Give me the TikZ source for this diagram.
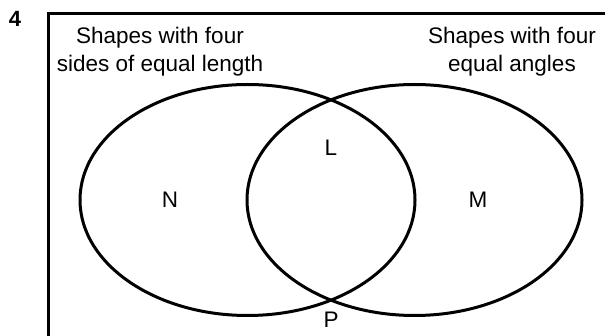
\documentclass[tikz,border=0pt]{standalone}
\usepackage{fontspec}
\setmainfont{Liberation Sans}
\usetikzlibrary{shapes.geometric}
\begin{document}
\begin{tikzpicture}[x=1pt,y=-1pt,
  set/.style={draw=black, line width=3pt, ellipse, inner sep=0pt, minimum width=335pt, minimum height=231pt},
  lab/.style={inner sep=0pt, font=\fontsize{22.5}{28}\selectfont},
  head/.style={inner sep=0pt, anchor=north, align=center, font=\fontsize{22.5}{28}\selectfont}]
\useasboundingbox (0,0) rectangle (605,336);
\clip (0,0) rectangle (605,336);
\node[lab, font=\fontsize{22}{26}\selectfont\bfseries] (num) at (15,19) {4};
\draw[line width=3pt] (48,360) -- (48,14) -- (630,14);
\node[set] (A) at (247.5,200) {};
\node[set] (B) at (414.5,200) {};
\node[head] (ha) at (160,26.6) {Shapes with four\\sides of equal length};
\node[head] (hb) at (512,26.6) {Shapes with four\\equal angles};
\node[lab] (N) at (170,200) {N};
\node[lab] (M) at (478,200) {M};
\node[lab] (L) at (331,148) {L};
\node[lab] (P) at (331,320) {P};
\end{tikzpicture}
\end{document}
